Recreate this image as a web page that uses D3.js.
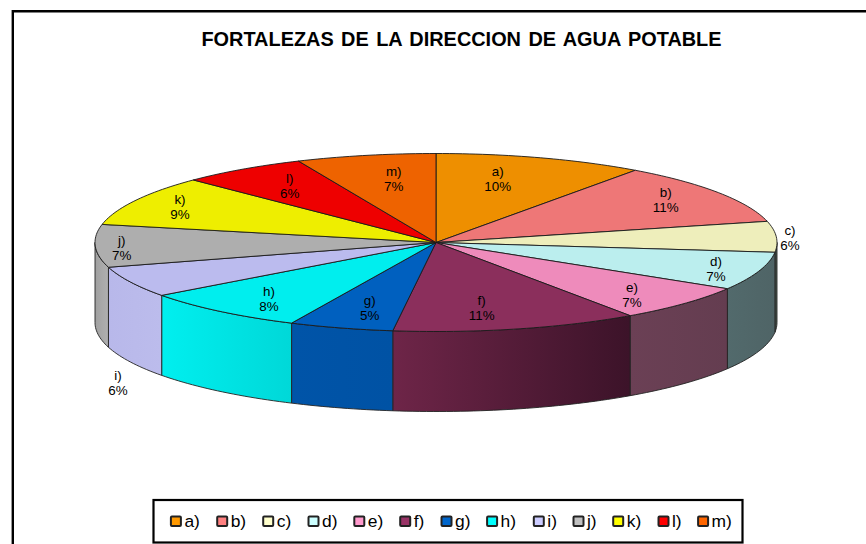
<!DOCTYPE html>
<html><head><meta charset="utf-8">
<script src="https://cdnjs.cloudflare.com/ajax/libs/d3/7.8.5/d3.min.js"></script>
<style>html,body{margin:0;padding:0;background:#fff}svg{display:block}text{font-family:"Liberation Sans",Arial,sans-serif;fill:#000}</style>
</head><body><svg id="c" width="866" height="544"></svg>
<script>
const categories=["a)","b)","c)","d)","e)","f)","g)","h)","i)","j)","k)","l)","m)"];
const shares=[9.94,11.25,5.58,6.94,6.67,11.67,4.94,7.92,5.64,7.75,9.14,6.0,6.61];
const percentLabels=["10%","11%","6%","7%","7%","11%","5%","8%","6%","7%","9%","6%","7%"];
const topColors=["#ee8f00","#ee7777","#eeeebb","#bbeeee","#ee8bbb","#8b2f5c","#0060bf","#00eeee","#bbbbee","#aeaeae","#eeee00","#ee0000","#ee6300"];
const legendColors=["#ff9900","#ff8080","#ffffcc","#ccffff","#ff99cc","#993366","#0066cc","#00ffff","#ccccff","#c0c0c0","#ffff00","#ff0000","#ff6600"];
const wallStart=["#ee8f00","#ee7777","#4a5a50","#526a6c","#6b4055","#6e2548","#0054a8","#00efef","#b8b8ea","#a0a0a0","#eeee00","#ee0000","#ee6300"];
const wallEnd=["#ee8f00","#ee7777","#4a5a50","#4f6466","#643d50","#3c1329","#0052a4","#00d8d8","#bcbcec","#b0b0b0","#eeee00","#ee0000","#ee6300"];
const labelX=[497.7,665.7,790,716,632,481.7,369.7,269,118,121.7,180,289.7,393.7];
const labelY=[179,199.5,237.5,269,295,308,308,299,383,248,207,185.5,179];
const legendX=[170.4,216.7,262.7,308,353.8,399.7,441,486.6,533.3,573,612.7,658,697.6];

const svg=d3.select("#c");
const W=866;
const cx=436,cy=242.5,rx=341,ry=89,depth=80;
const xS=d3.scaleLinear().domain([-1,1]).range([cx-rx,cx+rx]);
const yS=d3.scaleLinear().domain([-1,1]).range([cy-ry,cy+ry]);
const arcs=d3.pie().sort(null).value(d=>d).startAngle(0).endAngle(2*Math.PI)(shares);
const px=a=>xS(Math.sin(a)), py=a=>yS(-Math.cos(a));

svg.append("path").attr("d",`M12.8,544V11.2H${W}`).attr("fill","none").attr("stroke","#000").attr("stroke-width",2.4);

svg.append("text").attr("x",461.5).attr("y",46).attr("text-anchor","middle")
  .attr("font-size",19.9).attr("font-weight","bold").attr("word-spacing",1.9).text("FORTALEZAS DE LA DIRECCION DE AGUA POTABLE");

const defs=svg.append("defs");
function arcPath(a0,a1,dy){
  const n=Math.max(2,Math.ceil((a1-a0)/0.02));
  return d3.range(n+1).map(i=>{const a=a0+(a1-a0)*i/n;return [px(a),py(a)+dy];});
}
const line=d3.line();
const wallLayer=svg.append("g");
arcs.forEach((d,i)=>{
  const a0=Math.max(d.startAngle,Math.PI/2),a1=Math.min(d.endAngle,3*Math.PI/2);
  if(a1<=a0)return;
  const topEdge=arcPath(a0,a1,0),bot=arcPath(a0,a1,depth).reverse();
  const id="w"+i;
  const x0=px(a0),x1=px(a1);
  const g=defs.append("linearGradient").attr("id",id).attr("gradientUnits","userSpaceOnUse")
    .attr("x1",Math.min(x0,x1)).attr("x2",Math.max(x0,x1)).attr("y1",0).attr("y2",0);
  g.append("stop").attr("offset",0).attr("stop-color",wallStart[i]);
  g.append("stop").attr("offset",1).attr("stop-color",wallEnd[i]);
  wallLayer.append("path").attr("d",line(topEdge.concat(bot))+"Z").attr("fill",`url(#${id})`)
    .attr("stroke","#222").attr("stroke-width",0.9).attr("stroke-linejoin","round");
});
const topLayer=svg.append("g");
arcs.forEach((d,i)=>{
  const pts=[[cx,cy]].concat(arcPath(d.startAngle,d.endAngle,0));
  topLayer.append("path").attr("d",line(pts)+"Z").attr("fill",topColors[i])
    .attr("stroke","#1a1a1a").attr("stroke-width",0.9).attr("stroke-linejoin","round");
});
const lab=svg.append("g").attr("font-size",13.4).attr("text-anchor","middle");
categories.forEach((c,i)=>{
  lab.append("text").attr("x",labelX[i]).attr("y",labelY[i]-3).text(c);
  lab.append("text").attr("x",labelX[i]).attr("y",labelY[i]+12).text(percentLabels[i]);
});
svg.append("rect").attr("x",153.5).attr("y",500).attr("width",589).attr("height",42.5).attr("fill","#fff").attr("stroke","#000").attr("stroke-width",2.2);
const leg=svg.append("g");
categories.forEach((c,i)=>{
  leg.append("rect").attr("x",legendX[i]+0.5).attr("y",516.5).attr("width",10).attr("height",9.5).attr("rx",1)
    .attr("fill",legendColors[i]).attr("stroke","#222").attr("stroke-width",2);
  leg.append("text").attr("x",legendX[i]+14).attr("y",527).attr("font-size",17.4).text(c);
});
</script></body></html>
